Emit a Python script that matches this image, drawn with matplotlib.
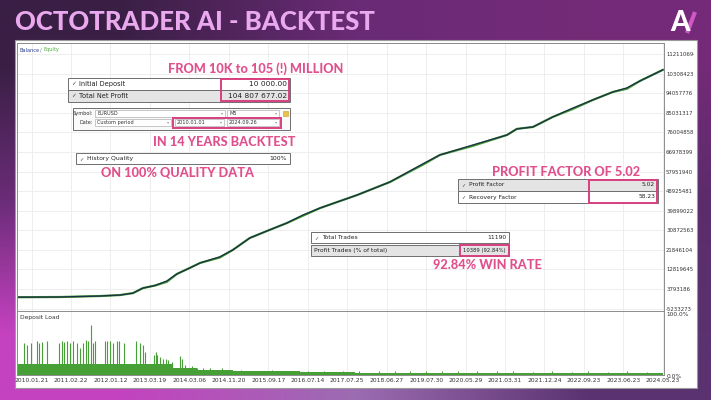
import numpy as np
import matplotlib.pyplot as plt
from matplotlib.patches import Rectangle
from matplotlib.colors import to_rgb
from matplotlib.transforms import Bbox, TransformedBbox

W, H = 711, 400

# x positions are in units of the MT5 date-label spacing (label k sits at x = k)
date_labels = ["2010.01.21", "2011.02.22", "2012.01.12", "2013.03.19", "2014.03.06",
               "2014.11.20", "2015.09.17", "2016.07.14", "2017.07.25", "2018.06.27",
               "2019.07.30", "2020.05.29", "2021.03.31", "2021.12.24", "2022.09.23",
               "2023.06.23", "2024.05.23"]

# balance / equity (millions)
bal_x = [-0.37, 0.72, 1.73, 2.24, 2.57, 2.82, 3.13, 3.43, 3.68, 4.01, 4.27, 4.77,
         5.10, 5.53, 5.96, 6.47, 6.88, 7.31, 8.25, 9.08, 9.92, 10.35, 11.19, 12.05,
         12.30, 12.71, 13.21, 13.72, 14.22, 14.73, 15.09, 15.42, 16.00]
bal_m = [0.01, 0.1, 0.55, 1.0, 1.9, 4.2, 5.4, 7.5, 10.7, 13.5, 15.8, 18.6,
         21.8, 27.3, 30.5, 34.2, 37.9, 41.1, 47.1, 53.1, 61.5, 65.6, 70.2, 74.8,
         77.6, 78.5, 83.1, 87.2, 90.9, 94.6, 96.5, 99.7, 104.82]
eq_m = [0.01, 0.1, 0.55, 1.0, 1.9, 4.2, 5.4, 7.1, 10.7, 13.5, 15.8, 18.3,
        21.8, 27.3, 30.5, 34.2, 37.6, 41.1, 47.1, 53.1, 61.1, 65.6, 69.8, 74.8,
        77.6, 78.5, 83.1, 86.8, 90.9, 94.6, 96.1, 99.7, 104.82]

y_ticks = [-5233273, 3793186, 12819645, 21846104, 30872563, 39899022, 48925481,
           57951940, 66978399, 76004858, 85031317, 94057776, 103084235, 112110694]

# deposit load (%)
load_edges = [-0.37, 3.56, 4.20, 5.10, 6.80, 8.20, 16.0]
load_base = [18, 11, 8, 6, 4.5, 3]
spike_x = [-0.20, -0.12, -0.02, 0.13, 0.19, 0.26, 0.39, 0.69, 0.77, 0.82, 0.89,
           0.97, 1.05, 1.15, 1.22, 1.30, 1.38, 1.43, 1.50, 1.55, 1.60, 1.86, 1.91,
           1.98, 2.06, 2.16, 2.21, 2.34, 2.64, 2.74, 2.82, 2.87, 3.10, 3.15, 3.18,
           3.25, 3.33, 3.40, 3.46, 3.56, 3.76, 3.81, 3.89, 4.06, 4.19, 4.34, 4.52,
           4.70, 4.82]
spike_h = [52, 49, 52, 55, 52, 54, 55, 52, 55, 54, 55,
           52, 55, 52, 44, 52, 57, 55, 82, 52, 55, 55, 55,
           55, 52, 55, 55, 52, 55, 52, 49, 38, 33, 37, 33,
           30, 27, 26, 25, 22, 31, 27, 16, 14, 11, 11, 11,
           9, 11]
small_x = [5.3, 5.6, 6.1, 6.5, 7.0, 7.4, 7.9, 8.3, 8.8, 9.2, 9.6, 10.0, 10.4,
           10.8, 11.3, 11.8, 12.2, 12.7, 13.2, 13.7, 14.1, 14.6, 15.1, 15.6]
small_h = [8, 7, 8, 7, 7, 6, 7, 6, 6, 7, 6, 7, 6, 6, 7, 6, 6, 5, 6, 5, 6, 5, 6, 5]

PINK = '#e0508d'
PINK_EDGE = '#d8407f'
GREEN = '#46a035'
NAVY = '#1d3344'
MT = ['DejaVu Sans']
HEAD = ['Lato', 'DejaVu Sans']

fig = plt.figure(figsize=(W / 100, H / 100), dpi=100)


def px_axes(x0, y0, x1, y1, z):
    return fig.add_axes([x0 / W, 1 - y1 / H, (x1 - x0) / W, (y1 - y0) / H], zorder=z)


# background gradient + white report panel
bg = fig.add_axes([0, 0, 1, 1], zorder=0)
grad = np.array([[to_rgb(c) for c in row] for row in [
    ['#3a1f45', '#6a2b76', '#742a78'],
    ['#6a2c78', '#7a3a88', '#5c2c6c'],
    ['#c442c0', '#9c6cb2', '#5a3270']]])
bg.imshow(grad, extent=[0, W, H, 0], interpolation='bilinear', aspect='auto')
bg.set_xlim(0, W)
bg.set_ylim(H, 0)
bg.axis('off')
bg.add_patch(Rectangle((15, 40), 682, 348, facecolor='white', edgecolor='#9a9a9a', lw=0.8))

# balance panel
ax = px_axes(17, 43, 664, 311, 1)
ax.plot(bal_x, np.array(eq_m) * 1e6, color=GREEN, lw=1.6)
ax.plot(bal_x, np.array(bal_m) * 1e6, color=NAVY, lw=1.0)
ax.set_xlim(-0.37, 16.03)
ax.set_ylim(-6348902, 117200170)
ax.set_xticks(range(len(date_labels)))
ax.set_xticklabels([])
ax.set_yticks(y_ticks)
ax.set_yticklabels([str(v) for v in y_ticks], fontsize=3.9, family=MT, color='#333333')
ax.yaxis.tick_right()
ax.tick_params(length=0, pad=1.5)
ax.grid(color='#ebebeb', lw=0.6)
ax.set_axisbelow(True)
for s in ax.spines.values():
    s.set_color('#8c8c8c')
    s.set_linewidth(0.7)
clip = TransformedBbox(Bbox([[0, 1 - 311 / H], [694 / W, 1]]), fig.transFigure)
for lab in ax.get_yticklabels():
    lab.set_clip_on(True)
    lab.set_clip_box(clip)

# deposit load panel
ax2 = px_axes(17, 311, 664, 375, 1)
ax2.fill_between(load_edges, load_base + [load_base[-1]], step='post', color=GREEN, lw=0)
ax2.vlines(spike_x, 0, spike_h, color=GREEN, lw=0.8)
ax2.vlines(small_x, 0, small_h, color=GREEN, lw=0.7)
ax2.set_xlim(-0.37, 16.03)
ax2.set_ylim(0, 105)
ax2.set_xticks(range(len(date_labels)))
ax2.set_xticklabels(date_labels, fontsize=4.3, family=MT, color='#333333')
ax2.set_yticks([])
ax2.tick_params(length=0, pad=2)
ax2.grid(axis='x', color='#ebebeb', lw=0.6)
ax2.set_axisbelow(True)
for s in ax2.spines.values():
    s.set_color('#8c8c8c')
    s.set_linewidth(0.7)
ax2.text(0.005, 0.9, "Deposit Load", transform=ax2.transAxes, fontsize=4.3,
         family=MT, color='#333333', va='center')

# overlay in pixel coordinates
ov = fig.add_axes([0, 0, 1, 1], zorder=3)
ov.set_xlim(0, W)
ov.set_ylim(H, 0)
ov.axis('off')
ov.patch.set_alpha(0)

ov.text(15, 22, "OCTOTRADER AI - BACKTEST", fontsize=18.5, fontweight='black',
        family=HEAD, color='#eaa8ee', va='center')
ov.text(680, 23, "A", fontsize=20, fontweight='black', family=HEAD, color='white',
        ha='center', va='center')
ov.plot([687, 695], [33, 12], color='#cf58c6', lw=3, solid_capstyle='butt')

ov.text(666, 314, "100.0%", fontsize=4.2, family=MT, color='#333333', va='center')
ov.text(667, 376, "0.0%", fontsize=4.2, family=MT, color='#333333', va='center')
ov.text(19, 50, "Balance", fontsize=3.6, family=MT, color='#2a3f8f', va='center')
ov.text(40.5, 50, "/", fontsize=3.6, family=MT, color='#777777', va='center')
ov.text(44, 50, "Equity", fontsize=3.6, family=MT, color='#4caf3a', va='center')

EDGE = '#6e6e6e'
ROWBG = '#e4e4e4'


def row(x0, x1, y0, y1, label, value, bg='white', check=True, fs=4.4, vfs=None):
    ov.add_patch(Rectangle((x0, y0), x1 - x0, y1 - y0, facecolor=bg, edgecolor=EDGE, lw=0.7))
    yc = (y0 + y1) / 2
    tx = x0 + 3
    if check:
        ov.text(tx, yc, "\u2713", fontsize=fs - 0.6, family=['DejaVu Sans'], color='#444444', va='center')
        tx += 8
    ov.text(tx, yc, label, fontsize=fs, family=MT, color='#222222', va='center')
    ov.text(x1 - 3, yc, value, fontsize=vfs or fs, family=MT, color='#222222', va='center', ha='right')


def pink_box(x0, x1, y0, y1):
    ov.add_patch(Rectangle((x0, y0), x1 - x0, y1 - y0, facecolor='none', edgecolor=PINK_EDGE, lw=1.4))


def note(xc, yc, s):
    ov.text(xc, yc, s, fontsize=9.2, fontweight='black', family=HEAD, color=PINK,
            ha='center', va='center')


def field(x0, x1, y0, y1, s, arrow=True):
    ov.add_patch(Rectangle((x0, y0), x1 - x0, y1 - y0, facecolor='white', edgecolor='#b0b0b0', lw=0.5))
    ov.text(x0 + 2, (y0 + y1) / 2, s, fontsize=3.6, family=MT, color='#333333', va='center')
    if arrow:
        ov.text(x1 - 3, (y0 + y1) / 2, "\u25be", fontsize=3, family=['DejaVu Sans'],
                color='#999999', va='center', ha='center')


note(255.5, 69, "FROM 10K to 105 (!) MILLION")
row(68, 290, 78, 90, "Initial Deposit", "10 000.00", fs=4.8, vfs=5.3)
row(68, 290, 90, 102, "Total Net Profit", "104 807 677.02", bg=ROWBG, fs=4.8, vfs=5.3)
pink_box(221, 289, 79, 101)

ov.add_patch(Rectangle((73, 108), 217, 22, facecolor='#fafafa', edgecolor=EDGE, lw=0.7))
ov.text(93, 113.5, "Symbol:", fontsize=3.6, family=MT, color='#333333', va='center', ha='right')
ov.text(93, 122.5, "Date:", fontsize=3.6, family=MT, color='#333333', va='center', ha='right')
field(95, 225, 110, 117, "EURUSD")
field(227, 279, 110, 117, "M5")
ov.add_patch(Rectangle((283, 111), 5, 5, facecolor='#e8c14a', edgecolor='#c9a030', lw=0.4))
field(95, 171, 119, 126, "Custom period")
field(175, 224, 119, 126, "2010.01.01")
field(227, 279, 119, 126, "2024.09.26")
pink_box(173, 281, 117.5, 128)
note(224.5, 142, "IN 14 YEARS BACKTEST")

row(76, 290, 153, 164, "History Quality", "100%", fs=4.4)
note(177.5, 172, "ON 100% QUALITY DATA")

note(566, 172, "PROFIT FACTOR OF 5.02")
row(458, 658, 179, 191, "Profit Factor", "5.02", bg=ROWBG, fs=4.2)
row(458, 658, 191, 203, "Recovery Factor", "58.23", fs=4.2)
pink_box(589, 657, 179.5, 202.5)

row(311, 509, 232, 243, "Total Trades", "11190", fs=4.3)
row(311, 509, 245, 256, "Profit Trades (% of total)", "10389 (92.84%)", bg=ROWBG,
    check=False, fs=4.3, vfs=3.8)
pink_box(460, 509, 245, 256)
note(487, 265, "92.84% WIN RATE")

fig.savefig("out.png", dpi=100)
